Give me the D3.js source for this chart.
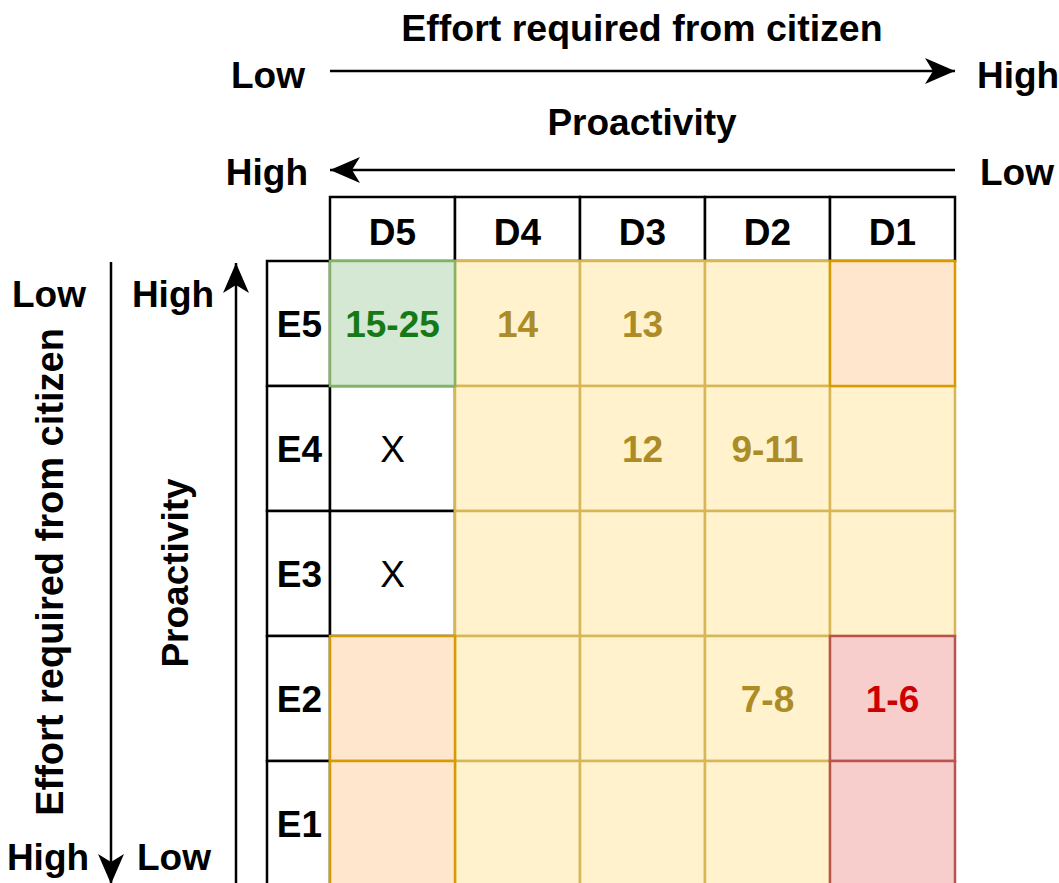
<!DOCTYPE html>
<html>
<head>
<meta charset="utf-8">
<script src="https://cdn.jsdelivr.net/npm/d3@7"></script>
<style>
  html, body { margin: 0; padding: 0; background: #fff; }
  text { font-family: "Liberation Sans", Arial, sans-serif; }
</style>
</head>
<body>
<div id="chart"></div>
<script>
// data
const columns = ["D5", "D4", "D3", "D2", "D1"];
const rows = ["E5", "E4", "E3", "E2", "E1"];
// cell category per row (E5..E1) and column (D5..D1)
const cellTypes = [
  ["green", "yellow", "yellow", "yellow", "orange"],
  ["white", "yellow", "yellow", "yellow", "yellow"],
  ["white", "yellow", "yellow", "yellow", "yellow"],
  ["orange", "yellow", "yellow", "yellow", "red"],
  ["orange", "yellow", "yellow", "yellow", "red"]
];
const cellLabels = [
  ["15-25", "14", "13", "", ""],
  ["X", "", "12", "9-11", ""],
  ["X", "", "", "", ""],
  ["", "", "", "7-8", "1-6"],
  ["", "", "", "", ""]
];
const topTitle = "Effort required from citizen";
const midTitle = "Proactivity";
const sideTitle = "Effort required from citizen";
const sideTitle2 = "Proactivity";

const width = 1059, height = 883;
const fs = 37;

// styles
const palette = {
  white:  {fill: "#ffffff", stroke: "#000000", text: "#000000", weight: "normal"},
  yellow: {fill: "#fff2cc", stroke: "#d6b656", text: "#ab8c26", weight: "bold"},
  orange: {fill: "#ffe6cc", stroke: "#d79b00", text: "#000000", weight: "bold"},
  green:  {fill: "#d5e8d4", stroke: "#82b366", text: "#157a15", weight: "bold"},
  red:    {fill: "#f8cecc", stroke: "#b85450", text: "#cc0000", weight: "bold"}
};
const drawOrder = ["white", "yellow", "orange", "green", "red"];

const svg = d3.select("#chart").append("svg")
  .attr("width", width)
  .attr("height", height);

const defs = svg.append("defs");
defs.append("marker")
  .attr("id", "arrow")
  .attr("viewBox", "0 0 32 30")
  .attr("refX", 30).attr("refY", 15)
  .attr("markerWidth", 32).attr("markerHeight", 30)
  .attr("markerUnits", "userSpaceOnUse")
  .attr("orient", "auto")
  .append("path")
    .attr("d", "M0,2 L30,15 L0,28 L8,15 Z")
    .attr("fill", "#000");

// scales
const x = d3.scaleBand().domain(columns).range([330, 955]);
const y = d3.scaleBand().domain(rows).range([261, 886]);
const headerTop = 197;
const labelLeft = 267;

// header row
const header = svg.append("g");
header.selectAll("rect")
  .data(columns)
  .join("rect")
    .attr("x", d => x(d))
    .attr("y", headerTop)
    .attr("width", x.bandwidth())
    .attr("height", y.range()[0] - headerTop)
    .attr("fill", "#fff")
    .attr("stroke", "#000")
    .attr("stroke-width", 2.5);
header.selectAll("text")
  .data(columns)
  .join("text")
    .attr("x", d => x(d) + x.bandwidth() / 2)
    .attr("y", 245)
    .attr("text-anchor", "middle")
    .attr("font-size", fs)
    .attr("font-weight", "bold")
    .text(d => d);

// row labels
const rowHead = svg.append("g");
rowHead.selectAll("rect")
  .data(rows)
  .join("rect")
    .attr("x", labelLeft)
    .attr("y", d => y(d))
    .attr("width", x.range()[0] - labelLeft)
    .attr("height", y.bandwidth())
    .attr("fill", "#fff")
    .attr("stroke", "#000")
    .attr("stroke-width", 2.5);
rowHead.selectAll("text")
  .data(rows)
  .join("text")
    .attr("x", (labelLeft + x.range()[0]) / 2 + 1)
    .attr("y", d => y(d) + y.bandwidth() / 2 + 0.36 * fs)
    .attr("text-anchor", "middle")
    .attr("font-size", fs)
    .attr("font-weight", "bold")
    .text(d => d);

// cells
const cells = [];
rows.forEach((r, i) => columns.forEach((c, j) => {
  cells.push({row: r, col: c, type: cellTypes[i][j], label: cellLabels[i][j]});
}));
cells.sort((a, b) => drawOrder.indexOf(a.type) - drawOrder.indexOf(b.type));

const grid = svg.append("g");
grid.selectAll("rect")
  .data(cells)
  .join("rect")
    .attr("x", d => x(d.col))
    .attr("y", d => y(d.row))
    .attr("width", x.bandwidth())
    .attr("height", y.bandwidth())
    .attr("fill", d => palette[d.type].fill)
    .attr("stroke", d => palette[d.type].stroke)
    .attr("stroke-width", 2.5);

// keep the black outline of the header/label cells on top
rowHead.raise();
header.raise();

grid.selectAll("text")
  .data(cells.filter(d => d.label))
  .join("text")
    .attr("x", d => x(d.col) + x.bandwidth() / 2)
    .attr("y", d => y(d.row) + y.bandwidth() / 2 + 0.36 * fs)
    .attr("text-anchor", "middle")
    .attr("font-size", fs)
    .attr("font-weight", d => palette[d.type].weight)
    .attr("fill", d => palette[d.type].text)
    .text(d => d.label);
grid.raise();

// top annotations
const ann = svg.append("g")
  .attr("font-size", fs)
  .attr("font-weight", "bold");

ann.append("text").attr("x", 642).attr("y", 41).attr("text-anchor", "middle").attr("font-size", 37.5).text(topTitle);
ann.append("text").attr("x", 642).attr("y", 135).attr("text-anchor", "middle").text(midTitle);
ann.append("text").attr("x", 305).attr("y", 88).attr("text-anchor", "end").text("Low");
ann.append("text").attr("x", 977).attr("y", 88).text("High");
ann.append("text").attr("x", 308).attr("y", 185).attr("text-anchor", "end").text("High");
ann.append("text").attr("x", 980).attr("y", 185).text("Low");

const arrows = [
  {x1: 330, y1: 71, x2: 955, y2: 71},
  {x1: 955, y1: 170, x2: 330, y2: 170},
  {x1: 111, y1: 262, x2: 111, y2: 884},
  {x1: 236, y1: 900, x2: 236, y2: 263}
];
svg.append("g").selectAll("line")
  .data(arrows)
  .join("line")
    .attr("x1", d => d.x1).attr("y1", d => d.y1)
    .attr("x2", d => d.x2).attr("y2", d => d.y2)
    .attr("stroke", "#000")
    .attr("stroke-width", 2.5)
    .attr("marker-end", "url(#arrow)");

// left annotations
ann.append("text").attr("x", 49).attr("y", 307).attr("text-anchor", "middle").text("Low");
ann.append("text").attr("x", 173).attr("y", 307).attr("text-anchor", "middle").text("High");
ann.append("text").attr("x", 48).attr("y", 870).attr("text-anchor", "middle").text("High");
ann.append("text").attr("x", 174).attr("y", 870).attr("text-anchor", "middle").text("Low");

ann.append("text")
  .attr("transform", "translate(63,572) rotate(-90)")
  .attr("text-anchor", "middle")
  .attr("font-size", 38)
  .text(sideTitle);
ann.append("text")
  .attr("transform", "translate(188,573) rotate(-90)")
  .attr("text-anchor", "middle")
  .text(sideTitle2);
</script>
</body>
</html>
